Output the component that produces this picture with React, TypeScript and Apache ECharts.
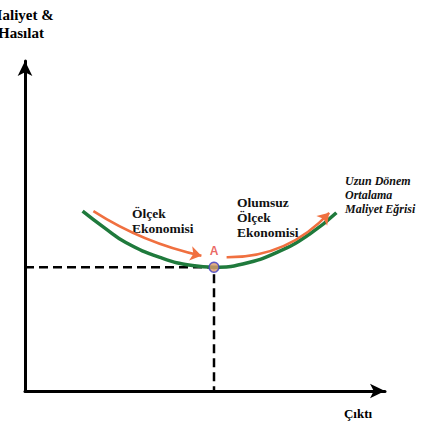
import React, { useEffect, useRef } from "react";
import * as echarts from "echarts";

// Conceptual units: output (x) 0..100, cost (y) 0..100
const costCurveX = [16, 22, 28, 37.5, 46.5, 52.5, 60.5, 70, 79, 86.5];
const costCurveY = [54.5, 49.5, 45, 40.5, 38, 37.5, 38.5, 42, 47.5, 54];
const pointA = [52.5, 37.5];
const economiesArrow = [[19, 54.5], [49, 41]];
const diseconomiesArrow = [[56, 40.5], [84.5, 54]];
const yAxisTitle = "Maliyet &\nHasılat";
const xAxisTitle = "Çıktı";
const leftLabel = "Ölçek\nEkonomisi";
const rightLabel = "Olumsuz\nÖlçek\nEkonomisi";
const curveLabel = "Uzun Dönem\nOrtalama\nMaliyet Eğrisi";

const SERIF = "Liberation Serif, Times New Roman, Times, Noto Serif, DejaVu Serif, serif";

export default function App() {
  const ref = useRef<HTMLDivElement>(null);
  useEffect(() => {
    document.body.style.margin = "0";
    if (!ref.current) return;
    const chart = echarts.init(ref.current, undefined, { renderer: "svg" });
    const curveData = costCurveX.map((x, i) => [x, costCurveY[i]]);
    const textStyle = (size: number, italic = false, lh = 15) => ({
      fontFamily: SERIF,
      fontWeight: "bold",
      fontStyle: italic ? "italic" : "normal",
      fontSize: size,
      lineHeight: lh,
      fill: "#111",
      align: "left",
      verticalAlign: "top",
    });
    chart.setOption({
      animation: false,
      backgroundColor: "#ffffff",
      grid: { left: 25, right: 40, top: 61, bottom: 39, containLabel: false, outerBoundsMode: "none" },
      xAxis: {
        type: "value",
        min: 0,
        max: 100,
        axisLine: {
          show: true,
          symbol: ["none", "arrow"],
          symbolSize: [11, 15],
          lineStyle: { color: "#000", width: 3 },
        },
        axisTick: { show: false },
        axisLabel: { show: false },
        splitLine: { show: false },
      },
      yAxis: {
        type: "value",
        min: 0,
        max: 100,
        name: yAxisTitle,
        nameLocation: "end",
        nameGap: 19,
        nameTextStyle: {
          fontFamily: SERIF,
          fontWeight: "bold",
          fontSize: 15,
          lineHeight: 18,
          color: "#000",
          align: "center",
          padding: [0, 8, 0, 0],
        },
        axisLine: {
          show: true,
          symbol: ["none", "arrow"],
          symbolSize: [11, 15],
          lineStyle: { color: "#000", width: 3 },
        },
        axisTick: { show: false },
        axisLabel: { show: false },
        splitLine: { show: false },
      },
      graphic: [
        {
          type: "text",
          x: 358,
          y: 413,
          style: { ...textStyle(13), text: xAxisTitle, fill: "#000", align: "center", verticalAlign: "middle" },
        },
        {
          type: "text",
          x: 132,
          y: 205.5,
          style: { ...textStyle(13.5), text: leftLabel },
        },
        {
          type: "text",
          x: 237,
          y: 194.5,
          style: { ...textStyle(13.5), text: rightLabel },
        },
        {
          type: "text",
          x: 345,
          y: 174,
          style: { ...textStyle(12, true, 14), text: curveLabel },
        },
      ],
      series: [
        {
          type: "line",
          data: [
            [0, pointA[1]],
            [pointA[0], pointA[1]],
            [pointA[0], 0],
          ],
          showSymbol: false,
          lineStyle: { color: "#000", width: 2.5, type: [9, 5] },
          z: 1,
          silent: true,
        },
        {
          type: "line",
          data: curveData,
          smooth: 0.5,
          showSymbol: false,
          lineStyle: { color: "#1f7a3c", width: 3.5 },
          z: 2,
          silent: true,
        },
        {
          type: "lines",
          coordinateSystem: "cartesian2d",
          symbol: ["none", "arrow"],
          symbolSize: 11,
          lineStyle: { color: "#f07040", width: 2.5, curveness: -0.09, opacity: 1 },
          data: [{ coords: economiesArrow }],
          z: 3,
          silent: true,
        },
        {
          type: "lines",
          coordinateSystem: "cartesian2d",
          symbol: ["none", "arrow"],
          symbolSize: 11,
          lineStyle: { color: "#f07040", width: 2.5, curveness: -0.22, opacity: 1 },
          data: [{ coords: diseconomiesArrow }],
          z: 3,
          silent: true,
        },
        {
          type: "scatter",
          data: [pointA],
          symbolSize: 10,
          itemStyle: { color: "#d99a6c", borderColor: "#3b3bc4", borderWidth: 1.5 },
          label: {
            show: true,
            formatter: "A",
            position: "top",
            distance: 5,
            color: "#e5423c",
            fontWeight: "bold",
            fontSize: 12,
            fontFamily: "Liberation Sans, Arial, sans-serif",
          },
          z: 4,
          silent: true,
        },
      ],
    });
    return () => chart.dispose();
  }, []);
  return <div ref={ref} style={{ width: 425, height: 430 }} />;
}
